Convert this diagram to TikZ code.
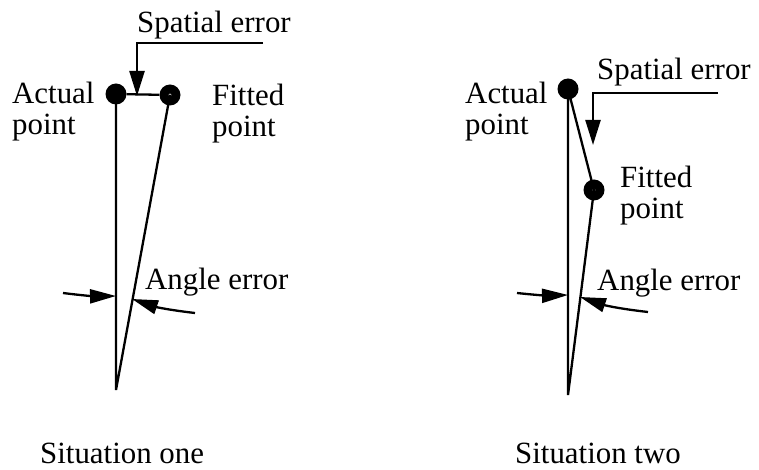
\documentclass[tikz,border=0pt]{standalone}
\usepackage{fontspec}
\setmainfont{Liberation Serif}
\usetikzlibrary{arrows.meta,positioning}

\begin{document}
\begin{tikzpicture}[
            x=1bp, y=-1bp,
            dot/.style={circle, fill=black, minimum size=21bp, inner sep=0pt},
            fitdot/.style={dot, path picture={\fill[gray!60] (path picture bounding box.center) circle (1.6bp);}},
            lbl/.style={font=\fontsize{31}{32}\selectfont, inner sep=0pt, align=left},
            line/.style={line width=2.3bp},
            pointer/.style={line width=2.3bp, -{Triangle[length=25bp,width=15bp]}},
            angarrow/.style={line width=2.3bp, -{Triangle[length=26bp,width=14bp]}}
        ]
            \useasboundingbox (0,0) rectangle (759,470);

            % Situation one
            \node[dot] (actual1) at (116,94) {};
            \node[fitdot] (fitted1) at (170,95) {};
            \coordinate (apex1) at (116,390);
            \coordinate (sp1) at (263,43);
            \coordinate (sp1tip) at (137,96);
            \coordinate (ang1l) at (63,293);
            \coordinate (ang1r) at (195,313);
            \coordinate (cut1a) at (116,296);
            \coordinate (cut1b) at (132,299);

            \draw[line] (actual1.center) -- (apex1) -- (fitted1.center);
            \draw[line] (actual1) -- (fitted1);
            \draw[pointer] (sp1) -| (sp1tip);
            \draw[angarrow] (ang1l) to[bend right=4] (cut1a);
            \draw[angarrow] (ang1r) to[bend left=6] (cut1b);

            \node[lbl, anchor=base west] (spatial1) at (137,33) {Spatial error};
            \node[lbl, anchor=base west] (actlbl1) at (12,135) {Actual\\point};
            \node[lbl, anchor=base west] (fitlbl1) at (212,137) {Fitted\\point};
            \node[lbl, anchor=base west] (angle1) at (145,290) {Angle error};
            \node[lbl, anchor=base west] (sit1) at (40,463) {Situation one};

            % Situation two
            \node[dot] (actual2) at (568,89) {};
            \node[fitdot] (fitted2) at (594,190) {};
            \coordinate (apex2) at (568,395);
            \coordinate (sp2) at (718,93);
            \coordinate (sp2tip) at (593,145);
            \coordinate (ang2l) at (517,293);
            \coordinate (ang2r) at (648,312);
            \coordinate (cut2a) at (568,295);
            \coordinate (cut2b) at (580,297);

            \draw[line] (actual2.center) -- (apex2) -- (fitted2.center) -- (actual2.center);
            \draw[pointer] (sp2) -| (sp2tip);
            \draw[angarrow] (ang2l) to[bend right=4] (cut2a);
            \draw[angarrow] (ang2r) to[bend left=6] (cut2b);

            \node[lbl, anchor=base west] (spatial2) at (597,80) {Spatial error};
            \node[lbl, anchor=base west] (actlbl2) at (465,135) {Actual\\point};
            \node[lbl, anchor=base west] (fitlbl2) at (620,219) {Fitted\\point};
            \node[lbl, anchor=base west] (angle2) at (597,291) {Angle error};
            \node[lbl, anchor=base west] (sit2) at (515,463) {Situation two};
        \end{tikzpicture}
\end{document}
